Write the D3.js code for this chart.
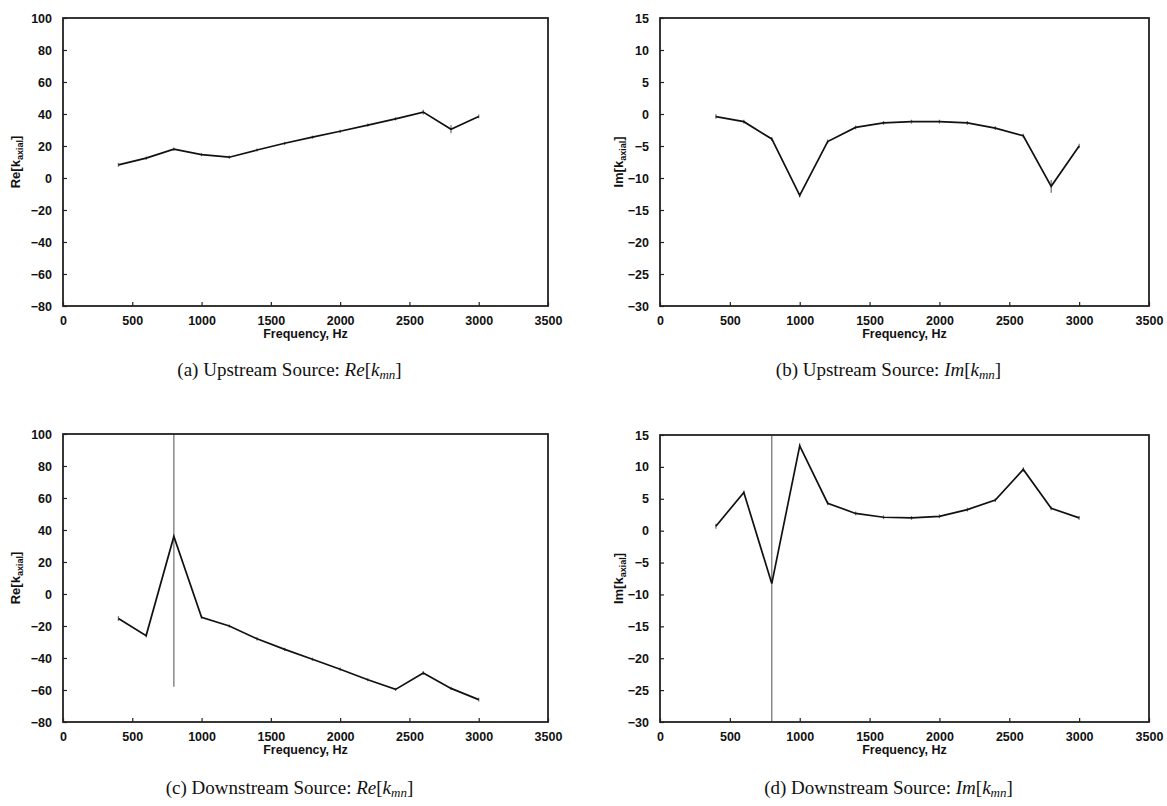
<!DOCTYPE html>
<html>
<head>
<meta charset="utf-8">
<script src="https://cdn.jsdelivr.net/npm/d3@7"></script>
<style>
  html, body { margin: 0; padding: 0; background: #fff; }
  svg { display: block; }
  .tick text { font-family: "Liberation Sans", Arial, sans-serif; font-weight: bold; font-size: 12.5px; fill: #111; }
</style>
</head>
<body>
<svg id="chart" width="1167" height="806"></svg>
<script>
// ---- data ----
const freq = [400, 600, 800, 1000, 1200, 1400, 1600, 1800, 2000, 2200, 2400, 2600, 2800, 3000];

const reUp    = [8.2, 12.4, 18.0, 14.6, 13.0, 17.5, 21.7, 25.5, 29.2, 33.0, 37.0, 41.2, 30.5, 38.5];
const reUpErr = [1.2, 1.0, 1.0, 1.0, 1.0, 1.0, 1.0, 1.0, 1.0, 1.0, 1.0, 1.5, 2.5, 1.2];

const imUp    = [-0.4, -1.2, -3.9, -12.7, -4.3, -2.1, -1.4, -1.2, -1.2, -1.4, -2.2, -3.4, -11.3, -5.0];
const imUpErr = [0.35, 0.3, 0.3, 0.35, 0.3, 0.3, 0.3, 0.3, 0.3, 0.3, 0.3, 0.3, 1.0, 0.35];

const reDn    = [-15.3, -26.0, 36.0, -14.5, -20.0, -28.0, -34.6, -40.8, -47.0, -53.6, -59.6, -49.4, -59.0, -66.0];
const reDnErr = [1.5, 1.2, 94.0, 1.0, 1.0, 1.0, 1.0, 1.0, 1.0, 1.0, 1.0, 1.2, 1.0, 1.2];

const imDn    = [0.7, 6.0, -8.3, 13.3, 4.3, 2.7, 2.1, 2.0, 2.25, 3.3, 4.8, 9.6, 3.5, 2.0];
const imDnErr = [0.4, 0.3, 25.0, 0.4, 0.3, 0.3, 0.3, 0.3, 0.3, 0.3, 0.3, 0.35, 0.3, 0.3];

const xTicks  = [0, 500, 1000, 1500, 2000, 2500, 3000, 3500];
const reTicks = [-80, -60, -40, -20, 0, 20, 40, 60, 80, 100];
const imTicks = [-30, -25, -20, -15, -10, -5, 0, 5, 10, 15];

const panels = [
  { y: reUp, err: reUpErr, dom: [-80, 100], ticks: reTicks, part: "Re", letter: "(a)", src: "Upstream Source: ",   x0: 63,  x1: 548,  y0: 18,  y1: 306, lx: 16,  cy: 376 },
  { y: imUp, err: imUpErr, dom: [-30, 15],  ticks: imTicks, part: "Im", letter: "(b)", src: "Upstream Source: ",   x0: 660, x1: 1149, y0: 18,  y1: 306, lx: 619, cy: 376 },
  { y: reDn, err: reDnErr, dom: [-80, 100], ticks: reTicks, part: "Re", letter: "(c)", src: "Downstream Source: ", x0: 63,  x1: 548,  y0: 434, y1: 722, lx: 16,  cy: 794 },
  { y: imDn, err: imDnErr, dom: [-30, 15],  ticks: imTicks, part: "Im", letter: "(d)", src: "Downstream Source: ", x0: 660, x1: 1149, y0: 435, y1: 722, lx: 619, cy: 794 }
];

const svg = d3.select("#chart");
let clipId = 0;

panels.forEach(p => {
  const x = d3.scaleLinear().domain([0, 3500]).range([p.x0, p.x1]);
  const y = d3.scaleLinear().domain(p.dom).range([p.y1, p.y0]);
  const g = svg.append("g");

  const cid = "clip" + (clipId++);
  svg.append("clipPath").attr("id", cid).append("rect")
    .attr("x", p.x0).attr("y", p.y0).attr("width", p.x1 - p.x0).attr("height", p.y1 - p.y0);

  // axes
  const xa = g.append("g").attr("transform", `translate(0,${p.y1})`)
    .call(d3.axisBottom(x).tickValues(xTicks).tickSizeInner(-4).tickSizeOuter(0).tickPadding(10).tickFormat(d3.format("d")));
  xa.select(".domain").remove();
  xa.selectAll(".tick line").attr("stroke", "#222").attr("stroke-width", 1.2);

  const ya = g.append("g").attr("transform", `translate(${p.x0},0)`)
    .call(d3.axisLeft(y).tickValues(p.ticks).tickSizeInner(-4).tickSizeOuter(0).tickPadding(11).tickFormat(d3.format("d")));
  ya.select(".domain").remove();
  ya.selectAll(".tick line").attr("stroke", "#222").attr("stroke-width", 1.2);

  // data
  const dg = g.append("g").attr("clip-path", `url(#${cid})`);
  dg.selectAll("line.err").data(freq).join("line").attr("class", "err")
    .attr("x1", d => x(d)).attr("x2", d => x(d))
    .attr("y1", (d, i) => y(p.y[i] - p.err[i])).attr("y2", (d, i) => y(p.y[i] + p.err[i]))
    .attr("stroke", "#777").attr("stroke-width", 1.3);

  const line = d3.line().x((d, i) => x(freq[i])).y(d => y(d));
  dg.append("path").datum(p.y).attr("d", line)
    .attr("fill", "none").attr("stroke", "#111").attr("stroke-width", 1.7).attr("stroke-linejoin", "miter");

  // frame
  g.append("rect").attr("x", p.x0).attr("y", p.y0).attr("width", p.x1 - p.x0).attr("height", p.y1 - p.y0)
    .attr("fill", "none").attr("stroke", "#222").attr("stroke-width", 1.8);

  // x label
  g.append("text").attr("x", (p.x0 + p.x1) / 2).attr("y", p.y1 + 32)
    .attr("text-anchor", "middle")
    .style("font-family", '"Liberation Sans", Arial, sans-serif').style("font-weight", "bold").style("font-size", "12.5px")
    .attr("fill", "#111").text("Frequency, Hz");

  // y label
  const yl = g.append("text")
    .attr("transform", `translate(${p.lx + 4},${(p.y0 + p.y1) / 2}) rotate(-90)`)
    .attr("text-anchor", "middle")
    .style("font-family", '"Liberation Sans", Arial, sans-serif').style("font-weight", "bold").style("font-size", "13px")
    .attr("fill", "#111");
  yl.append("tspan").text(p.part + "[k");
  yl.append("tspan").attr("dy", 3).style("font-size", "9px").text("axial");
  yl.append("tspan").attr("dy", -3).text("]");

  // caption
  const cap = svg.append("text").attr("x", (p.x0 + p.x1) / 2 - 16).attr("y", p.cy)
    .attr("text-anchor", "middle")
    .style("font-family", '"Liberation Serif", "Times New Roman", serif').style("font-size", "19px")
    .attr("fill", "#111");
  cap.append("tspan").text(p.letter + " " + p.src);
  cap.append("tspan").style("font-style", "italic").text(p.part);
  cap.append("tspan").text("[");
  cap.append("tspan").style("font-style", "italic").text("k");
  cap.append("tspan").style("font-style", "italic").style("font-size", "13px").attr("dy", 3).text("mn");
  cap.append("tspan").attr("dy", -3).text("]");
});
</script>
</body>
</html>
